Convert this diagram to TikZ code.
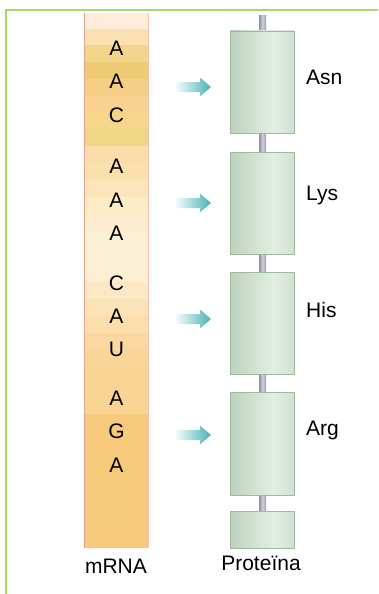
\documentclass[tikz,border=0pt]{standalone}
\usepackage{fontspec}
\setmainfont{Liberation Sans}
\usetikzlibrary{positioning}

\definecolor{frame}{HTML}{A9D76B}
\definecolor{stripedge}{HTML}{E3A58C}
\definecolor{stripedgeR}{HTML}{F2C3B2}
\definecolor{cylL}{HTML}{BCD3BC}
\definecolor{cylM}{HTML}{E3EEE4}
\definecolor{cylR}{HTML}{D2E1D3}
\definecolor{cyledge}{HTML}{9DBA9E}
\definecolor{rodL}{HTML}{8E8EA6}
\definecolor{rodM}{HTML}{D0D0DC}
\definecolor{rodR}{HTML}{9A9AB0}
\definecolor{teal}{HTML}{48B3B6}
\definecolor{tealpale}{HTML}{F4FAFA}

\pgfdeclarehorizontalshading{cylshade}{100bp}{%
  color(0bp)=(cylL); color(25bp)=(cylL); color(59bp)=(cylM);
  color(75bp)=(cylR); color(100bp)=(cylR)}

\begin{document}
\begin{tikzpicture}[x=1pt,y=-1pt,
  base/.style={font=\fontsize{21}{24}\selectfont, inner sep=0pt},
  base letter/.style={base, anchor=base},
  amino/.style={base, anchor=base west},
  cyl/.style={draw=cyledge, line width=0.8pt, shading=cylshade},
  pointer/.style={left color=tealpale, right color=teal}]

\useasboundingbox (0,0) rectangle (378,594);
\fill[white] (0,0) rectangle (378,594);

% outer frame: top and left rules
\draw[frame, line width=1.8pt] (6,594) -- (6,10) -- (378,10);

% mRNA strip, colour bands from top to bottom
\foreach \ya/\yb/\c in {
  13/29/FDEBDC, 29/45/F9E1B2, 45/62/F3D48C, 62/79/F0CB76,
  79/96/F6CF87, 96/113/F8D28E, 113/130/F5D68B, 130/146/F0D785,
  146/163/FADDAA, 163/180/FBDFAD, 180/197/FCE5BB, 197/214/FDEAC7,
  214/231/FCEDD0, 231/248/FBF0D3, 248/265/FBEFD6, 265/282/FCEED3,
  282/299/FCE8C4, 299/316/FBE3B8, 316/333/FBDEAC, 333/350/FAD89F,
  350/367/F9D698, 367/384/F9D391, 384/414/F9D493, 414/548/F7C97A}
{
  \definecolor{bandc}{HTML}{\c}
  \fill[bandc] (84,\ya) rectangle (149,\yb);
}
\draw[stripedge, line width=1pt] (84.5,13) -- (84.5,548);
\draw[stripedgeR, line width=1pt] (148.5,13) -- (148.5,548);

% codon letters
\foreach \t/\y [count=\i] in {A/48, A/81, C/115, A/166, A/200, A/233,
  C/283, A/316, U/349, A/398, G/431, A/465}
  \node[base letter] (n\i) at (116.5,\y+7.5) {\t};

% protein backbone rod
\shade[left color=rodL, right color=rodR, middle color=rodM]
  (259,16) rectangle (266,548);

% protein cylinders
\foreach \ya/\yb [count=\i] in {31/133, 152/254, 272/374, 392/495, 511/548}
  \path[cyl] (230,\ya) rectangle (294,\yb) coordinate (p\i);

% translation arrows
\foreach \y in {87, 203, 319, 435}
  \shade[pointer] (176,\y-5) -- (200,\y-5) -- (200,\y-9.5) -- (211,\y)
    -- (200,\y+9.5) -- (200,\y+5) -- (176,\y+5) -- cycle;

% amino acid labels
\node[amino] (asn) at (306,84.5) {Asn};
\node[amino] (lys) at (306,200.5) {Lys};
\node[amino] (his) at (306,317) {His};
\node[amino] (arg) at (306,435) {Arg};

% captions
\node[base letter] (mrna) at (116,573) {mRNA};
\node[base letter] (prot) at (261,570) {Proteïna};

\end{tikzpicture}
\end{document}
